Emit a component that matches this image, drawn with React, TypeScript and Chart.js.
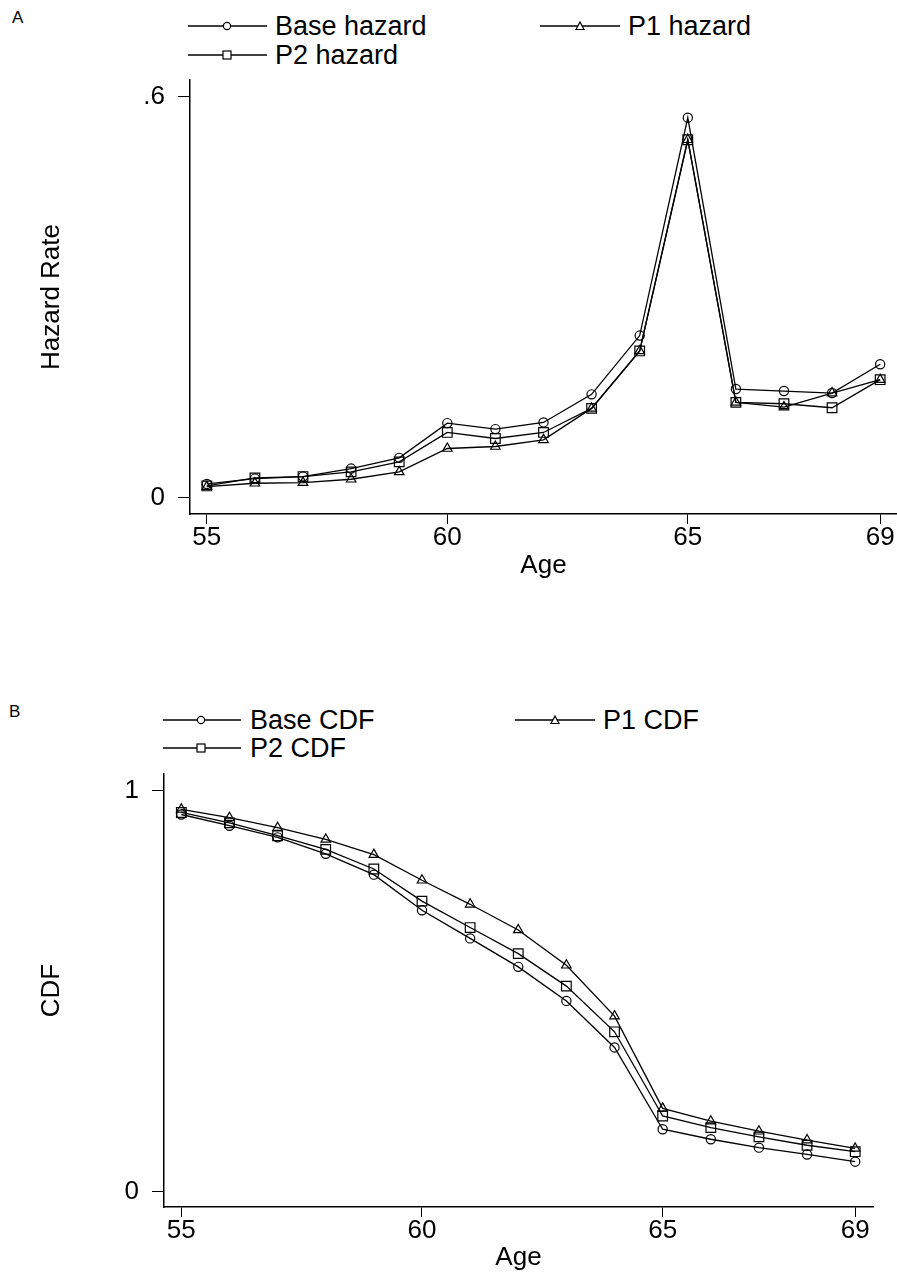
import React, { useEffect, useRef } from 'react';
import { Chart, registerables } from 'chart.js';

Chart.register(...registerables);

const FONT = '"Liberation Sans", Arial, Helvetica, sans-serif';

// ---- data ----
const ages = [55, 56, 57, 58, 59, 60, 61, 62, 63, 64, 65, 66, 67, 68, 69];
const xTickValues = [55, 60, 65, 69];

const baseHazard = [0.021, 0.029, 0.032, 0.044, 0.06, 0.112, 0.103, 0.113, 0.155, 0.243, 0.569, 0.163, 0.16, 0.157, 0.2];
const p1Hazard = [0.017, 0.022, 0.023, 0.028, 0.039, 0.074, 0.077, 0.087, 0.134, 0.22, 0.536, 0.143, 0.136, 0.157, 0.177];
const p2Hazard = [0.018, 0.03, 0.032, 0.039, 0.054, 0.098, 0.089, 0.098, 0.134, 0.22, 0.536, 0.143, 0.141, 0.135, 0.177];
const hazardTickValues = [0, 0.6];
const hazardTickLabels = ['0', '.6'];

const baseCdf = [0.941, 0.913, 0.884, 0.843, 0.791, 0.702, 0.632, 0.561, 0.476, 0.36, 0.156, 0.131, 0.11, 0.093, 0.075];
const p1Cdf = [0.954, 0.933, 0.908, 0.879, 0.841, 0.777, 0.717, 0.653, 0.565, 0.438, 0.208, 0.176, 0.151, 0.129, 0.108];
const p2Cdf = [0.946, 0.92, 0.888, 0.854, 0.805, 0.725, 0.659, 0.594, 0.513, 0.399, 0.189, 0.16, 0.137, 0.116, 0.1];
const cdfTickValues = [0, 1];
const cdfTickLabels = ['0', '1'];

type Series = { label: string; values: number[]; style: string; radius: number };

type Spec = {
  top: number;
  height: number;
  series: Series[];
  xMin: number;
  xMax: number;
  yMin: number;
  yMax: number;
  yTicks: number[];
  yLabels: string[];
  yTitle: string;
  yAxisWidth: number;
  xAxisHeight: number;
  padRight: number;
  padBottom: number;
  xTitlePad: number;
};

function LineChart({ spec }: { spec: Spec }) {
  const ref = useRef<HTMLCanvasElement>(null);
  useEffect(() => {
    const chart = new Chart(ref.current as HTMLCanvasElement, {
      type: 'line',
      data: {
        datasets: spec.series.map((s) => ({
          label: s.label,
          data: ages.map((a, i) => ({ x: a, y: s.values[i] })),
          borderColor: '#000',
          borderWidth: 1.3,
          pointStyle: s.style as any,
          pointRadius: s.radius,
          pointBorderColor: '#000',
          pointBackgroundColor: 'rgba(0,0,0,0)',
          pointBorderWidth: 1.2,
          fill: false,
          tension: 0,
        })),
      },
      options: {
        responsive: false,
        animation: false,
        maintainAspectRatio: false,
        layout: { autoPadding: false, padding: { top: 20, left: 0, right: spec.padRight, bottom: spec.padBottom } },
        plugins: { legend: { display: false }, tooltip: { enabled: false } },
        scales: {
          x: {
            type: 'linear',
            min: spec.xMin,
            max: spec.xMax,
            afterBuildTicks: (s: any) => {
              s.ticks = xTickValues.map((v) => ({ value: v }));
            },
            afterFit: (s: any) => {
              s.height = spec.xAxisHeight;
              s.paddingLeft = 0;
              s.paddingRight = 0;
              s.paddingTop = 0;
              s.paddingBottom = 0;
            },
            grid: { display: true, drawOnChartArea: false, drawTicks: true, tickLength: 10, color: '#000', lineWidth: 1 },
            border: { display: true, color: '#000', width: 1.5 },
            ticks: {
              color: '#000',
              font: { family: FONT, size: 26, lineHeight: 1 },
              padding: 1,
              maxRotation: 0,
              autoSkip: false,
              callback: (v: any) => String(v),
            },
            title: {
              display: true,
              text: 'Age',
              color: '#000',
              font: { family: FONT, size: 26, lineHeight: 1 },
              padding: { top: 0, bottom: spec.xTitlePad },
            },
          },
          y: {
            type: 'linear',
            min: spec.yMin,
            max: spec.yMax,
            afterBuildTicks: (s: any) => {
              s.ticks = spec.yTicks.map((v) => ({ value: v }));
            },
            afterFit: (s: any) => {
              s.width = spec.yAxisWidth;
              s.paddingLeft = 0;
              s.paddingRight = 0;
              s.paddingTop = 0;
              s.paddingBottom = 0;
            },
            grid: { display: true, drawOnChartArea: false, drawTicks: true, tickLength: 12, color: '#000', lineWidth: 1 },
            border: { display: true, color: '#000', width: 1.5 },
            ticks: {
              color: '#000',
              font: { family: FONT, size: 26, lineHeight: 1 },
              padding: 13,
              autoSkip: false,
              callback: (v: any) => {
                const idx = spec.yTicks.indexOf(Number(v));
                return idx >= 0 ? spec.yLabels[idx] : '';
              },
            },
            title: {
              display: true,
              text: spec.yTitle,
              color: '#000',
              font: { family: FONT, size: 26, lineHeight: 1 },
              padding: { top: 39, bottom: 0 },
            },
          },
        },
      },
    } as any);
    return () => chart.destroy();
  }, []);
  return (
    <canvas
      ref={ref}
      width={897}
      height={spec.height}
      style={{ position: 'absolute', left: 0, top: spec.top, width: 897, height: spec.height }}
    />
  );
}

type LegendEntry = { label: string; style: string; x1: number; x2: number; mx: number; tx: number; y: number };

function Marker({ style, x, y }: { style: string; x: number; y: number }) {
  if (style === 'circle') return <circle cx={x} cy={y} r={3.6} fill="white" stroke="#000" strokeWidth={1.2} />;
  if (style === 'rect') return <rect x={x - 4} y={y - 4} width={8} height={8} fill="white" stroke="#000" strokeWidth={1.2} />;
  return <polygon points={`${x - 4},${y + 3.5} ${x + 4},${y + 3.5} ${x},${y - 4}`} fill="white" stroke="#000" strokeWidth={1.2} />;
}

function Legend({ entries, top, height }: { entries: LegendEntry[]; top: number; height: number }) {
  return (
    <>
      <svg
        width={897}
        height={height}
        style={{ position: 'absolute', left: 0, top, overflow: 'visible' }}
      >
        {entries.map((e, i) => (
          <g key={i}>
            <line x1={e.x1} x2={e.x2} y1={e.y - top} y2={e.y - top} stroke="#000" strokeWidth={1.3} />
            <Marker style={e.style} x={e.mx} y={e.y - top} />
          </g>
        ))}
      </svg>
      {entries.map((e, i) => (
        <div
          key={'t' + i}
          style={{
            position: 'absolute',
            left: e.tx,
            top: e.y - 15,
            fontFamily: FONT,
            fontSize: 27,
            lineHeight: '30px',
            whiteSpace: 'nowrap',
            color: '#000',
          }}
        >
          {e.label}
        </div>
      ))}
    </>
  );
}

const hazardSpec: Spec = {
  top: 60,
  height: 540,
  series: [
    { label: 'Base hazard', values: baseHazard, style: 'circle', radius: 4.6 },
    { label: 'P1 hazard', values: p1Hazard, style: 'triangle', radius: 5.5 },
    { label: 'P2 hazard', values: p2Hazard, style: 'rect', radius: 6.8 },
  ],
  xMin: 54.65,
  xMax: 69.35,
  yMin: -0.024,
  yMax: 0.6254,
  yTicks: hazardTickValues,
  yLabels: hazardTickLabels,
  yTitle: 'Hazard Rate',
  yAxisWidth: 190,
  xAxisHeight: 76,
  padRight: 0,
  padBottom: 10,
  xTitlePad: 11,
};

const cdfSpec: Spec = {
  top: 754,
  height: 519,
  series: [
    { label: 'Base CDF', values: baseCdf, style: 'circle', radius: 4.6 },
    { label: 'P1 CDF', values: p1Cdf, style: 'triangle', radius: 5.5 },
    { label: 'P2 CDF', values: p2Cdf, style: 'rect', radius: 6.8 },
  ],
  xMin: 54.64,
  xMax: 69.37,
  yMin: -0.038,
  yMax: 1.042,
  yTicks: cdfTickValues,
  yLabels: cdfTickLabels,
  yTitle: 'CDF',
  yAxisWidth: 164,
  xAxisHeight: 66,
  padRight: 24,
  padBottom: 0,
  xTitlePad: 2,
};

const hazardLegend: LegendEntry[] = [
  { label: 'Base hazard', style: 'circle', x1: 188, x2: 267, mx: 227, tx: 275, y: 26 },
  { label: 'P1 hazard', style: 'triangle', x1: 540, x2: 620, mx: 580, tx: 628, y: 26 },
  { label: 'P2 hazard', style: 'rect', x1: 188, x2: 267, mx: 227, tx: 275, y: 55 },
];

const cdfLegend: LegendEntry[] = [
  { label: 'Base CDF', style: 'circle', x1: 163, x2: 241, mx: 201, tx: 250, y: 720 },
  { label: 'P1 CDF', style: 'triangle', x1: 515, x2: 595, mx: 555, tx: 603, y: 720 },
  { label: 'P2 CDF', style: 'rect', x1: 163, x2: 241, mx: 201, tx: 250, y: 748 },
];

export default function App() {
  return (
    <div style={{ position: 'absolute', left: 0, top: 0, width: 897, height: 1273, background: '#fff', overflow: 'hidden' }}>
      <div style={{ position: 'absolute', left: 12, top: 8, fontFamily: FONT, fontSize: 17, lineHeight: '20px' }}>A</div>
      <div style={{ position: 'absolute', left: 9, top: 702, fontFamily: FONT, fontSize: 17, lineHeight: '20px' }}>B</div>
      <Legend entries={hazardLegend} top={0} height={80} />
      <Legend entries={cdfLegend} top={690} height={80} />
      <LineChart spec={hazardSpec} />
      <LineChart spec={cdfSpec} />
    </div>
  );
}
